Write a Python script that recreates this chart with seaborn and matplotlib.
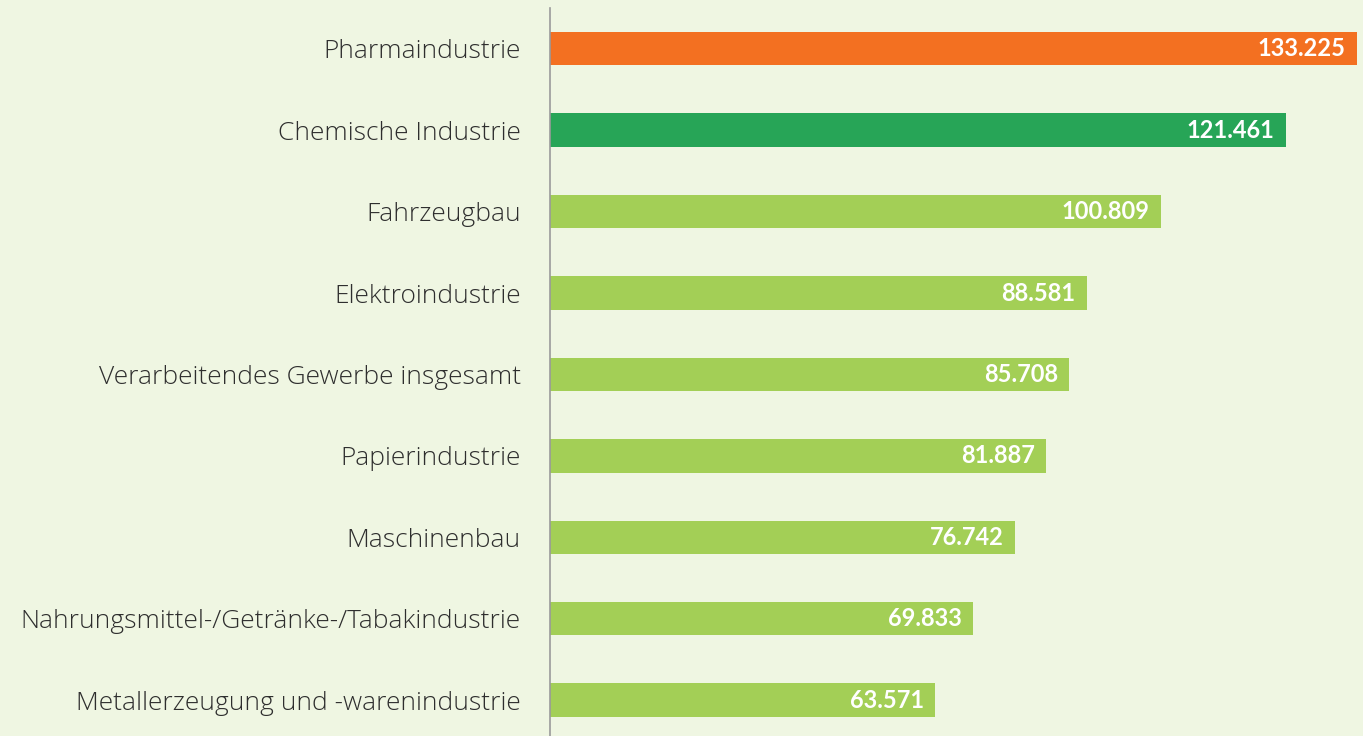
import matplotlib
matplotlib.use("Agg")
import matplotlib.pyplot as plt
import seaborn as sns
import pandas as pd

# data
branchen = [
    "Pharmaindustrie",
    "Chemische Industrie",
    "Fahrzeugbau",
    "Elektroindustrie",
    "Verarbeitendes Gewerbe insgesamt",
    "Papierindustrie",
    "Maschinenbau",
    "Nahrungsmittel-/Getränke-/Tabakindustrie",
    "Metallerzeugung und -warenindustrie",
]
werte = [133225, 121461, 100809, 88581, 85708, 81887, 76742, 69833, 63571]
farben = ["#F37021", "#27A557"] + ["#A3CF56"] * 7

bg = "#EFF6E2"

df = pd.DataFrame({"branche": branchen, "wert": werte})

sns.set_theme(style="white")
plt.rcParams["font.family"] = ["Open Sans", "DejaVu Sans"]

fig = plt.figure(figsize=(13.63, 7.36), dpi=100, facecolor=bg)
ax = fig.add_axes([550 / 1363, 0, 813 / 1363, 728 / 736])
ax.set_facecolor(bg)

sns.barplot(data=df, x="wert", y="branche", hue="branche", palette=farben,
            legend=False, width=0.41, saturation=1, linewidth=0, ax=ax)

ax.set_xlim(0, 134200)
ax.set_ylim(8.44, -0.5)

for i, v in enumerate(werte):
    ax.annotate(f"{v:,}".replace(",", "."), xy=(v, i), xytext=(-8, 0),
                textcoords="offset points", ha="right", va="center",
                color="white", fontsize=17, fontweight="bold",
                family=["Lato", "DejaVu Sans"])

ax.set_xlabel("")
ax.set_ylabel("")
ax.set_xticks([])
ax.tick_params(axis="y", length=0, pad=21, labelsize=19, labelcolor="#2e2e2e")
for lab in ax.get_yticklabels():
    lab.set_fontweight("light")
for s in ["top", "right", "bottom"]:
    ax.spines[s].set_visible(False)
ax.spines["left"].set_color("#9a9a9a")
ax.spines["left"].set_linewidth(1.2)

fig.savefig("out.png", dpi=100, facecolor=bg)
